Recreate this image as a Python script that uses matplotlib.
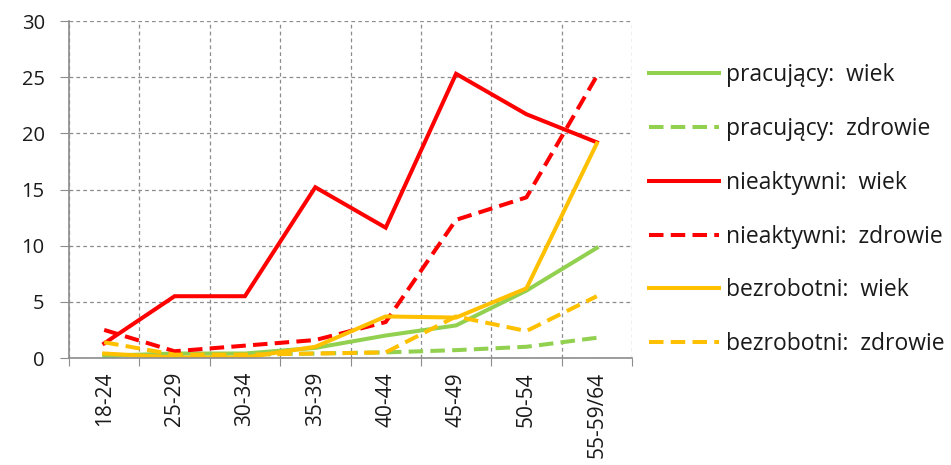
import matplotlib
matplotlib.use("Agg")
import matplotlib.pyplot as plt
import numpy as np

categories = ["18-24", "25-29", "30-34", "35-39", "40-44", "45-49", "50-54", "55-59/64"]

pracujacy_wiek = [0.2, 0.4, 0.4, 0.9, 2.0, 2.9, 6.0, 9.8]
pracujacy_zdrowie = [0.2, 0.3, 0.3, 0.4, 0.5, 0.7, 1.0, 1.8]
nieaktywni_wiek = [1.3, 5.5, 5.5, 15.2, 11.6, 25.3, 21.7, 19.2]
nieaktywni_zdrowie = [2.5, 0.6, 1.1, 1.6, 3.2, 12.3, 14.3, 25.1]
bezrobotni_wiek = [0.4, 0.05, 0.05, 1.0, 3.7, 3.6, 6.2, 19.1]
bezrobotni_zdrowie = [1.4, 0.3, 0.3, 0.4, 0.5, 3.7, 2.4, 5.5]

series = [
    ("pracujący:  wiek", pracujacy_wiek, "#92D050", "-"),
    ("pracujący:  zdrowie", pracujacy_zdrowie, "#92D050", "--"),
    ("nieaktywni:  wiek", nieaktywni_wiek, "#FF0000", "-"),
    ("nieaktywni:  zdrowie", nieaktywni_zdrowie, "#FF0000", "--"),
    ("bezrobotni:  wiek", bezrobotni_wiek, "#FFC000", "-"),
    ("bezrobotni:  zdrowie", bezrobotni_zdrowie, "#FFC000", "--"),
]

plt.rcParams['font.family'] = ['Open Sans', 'DejaVu Sans']
W, H = 951, 465
fig = plt.figure(figsize=(W / 100, H / 100), dpi=100)
ax = fig.add_axes([69 / W, 1 - 358 / H, (632 - 69) / W, (358 - 21) / H])

x = np.arange(len(categories))
handles = []
for label, vals, col, ls in series:
    if ls == "-":
        (h,) = ax.plot(x, vals, color=col, lw=2.9, solid_joinstyle="miter", label=label)
    else:
        (h,) = ax.plot(x, vals, color=col, lw=2.9, dashes=(3.6, 1.8),
                       dash_capstyle="butt", label=label)
    handles.append(h)

ax.set_xlim(-0.5, len(categories) - 0.5)
ax.set_ylim(0, 30)
ax.set_yticks(np.arange(0, 31, 5))

ax.set_xticks(np.arange(-0.5, len(categories), 1.0))
ax.set_xticklabels([])
ax.set_xticks(x, minor=True)
ax.set_xticklabels(categories, minor=True, rotation=90, fontsize=15, color="#1a1a1a")
ax.tick_params(axis="x", which="minor", length=0, pad=10)
ax.tick_params(axis="x", which="major", length=6, color="#8c8c8c", direction="out")
ax.tick_params(axis="y", length=6.5, color="#8c8c8c", direction="out", labelsize=14.5,
               labelcolor="#1a1a1a", pad=11)

ax.grid(True, which="major", color="#8c8c8c", linestyle=(0, (3, 2.5)), linewidth=0.9)
ax.set_axisbelow(True)
for s in ["top", "right"]:
    ax.spines[s].set_visible(False)
for s in ["left", "bottom"]:
    ax.spines[s].set_color("#8c8c8c")
    ax.spines[s].set_linewidth(1.2)

leg = fig.legend(handles=handles, loc="upper left", bbox_to_anchor=(640 / W, 1 - 54 / H),
                 frameon=False, fontsize=16.5, handlelength=3.06, handletextpad=0.3,
                 labelspacing=1.30, borderaxespad=0)
for t in leg.get_texts():
    t.set_color("#1a1a1a")

fig.savefig("out.png", dpi=100)
